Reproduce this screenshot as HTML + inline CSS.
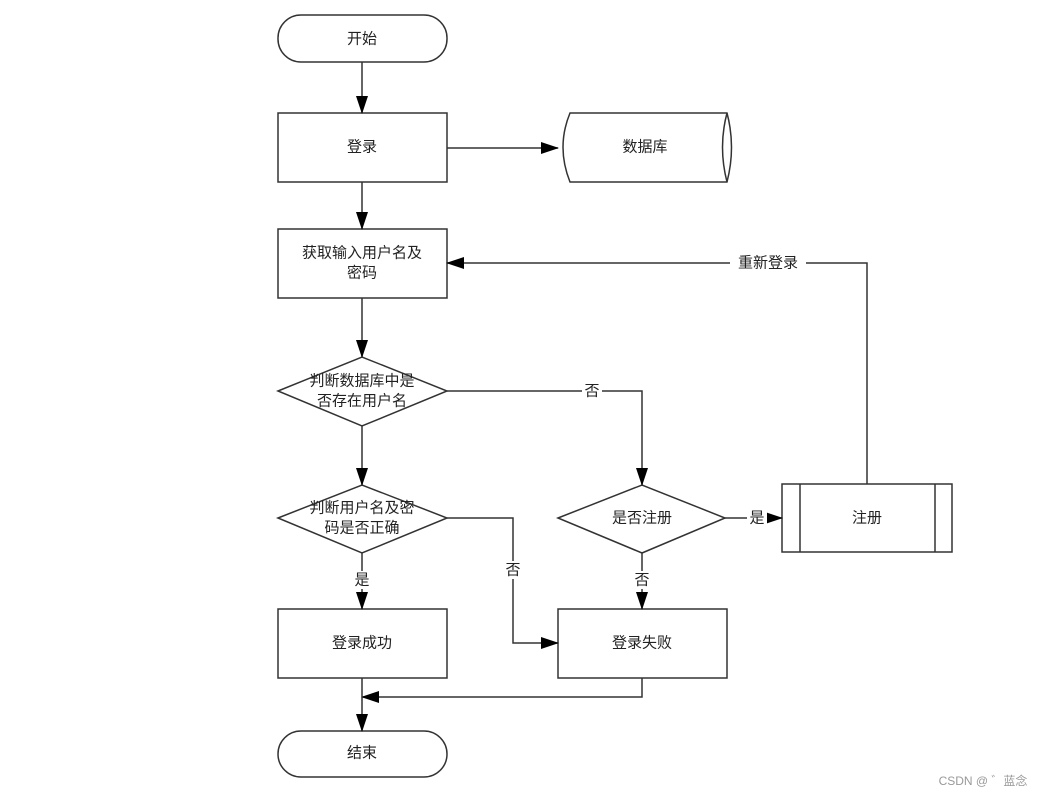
<!DOCTYPE html>
<html><head><meta charset="utf-8"><style>
html,body{margin:0;padding:0;background:#fff;}
svg{display:block;font-family:"Liberation Sans","Noto Sans CJK SC",sans-serif;}
text{font-size:15px;fill:#222;text-anchor:middle;dominant-baseline:central;}
</style></head><body>
<svg width="1042" height="797" viewBox="0 0 1042 797">
<defs><marker id="a" markerWidth="10" markerHeight="10" refX="9" refY="5" orient="auto" markerUnits="userSpaceOnUse"><path d="M0,0 L10,5 L0,10 z" fill="#000"/></marker>
<marker id="b" markerWidth="18" markerHeight="12" refX="17" refY="6" orient="auto" markerUnits="userSpaceOnUse"><path d="M0,0 L18,6 L0,12 z" fill="#000"/></marker></defs>
<g fill="none" stroke="#333" stroke-width="1.5">
<rect x="278" y="15" width="169" height="47" rx="23"/>
<rect x="278" y="113" width="169" height="69"/>
<path d="M570,113 H727 Q736,147 727,182 H570 Q556,147 570,113 Z"/>
<path d="M727,113 Q718,147 727,182"/>
<rect x="278" y="229" width="169" height="69"/>
<polygon points="278,391 362,357 447,391 362,426"/>
<polygon points="278,518 362,485 447,518 362,553"/>
<polygon points="558,518 642,485 725,518 642,553"/>
<rect x="782" y="484" width="170" height="68"/><line x1="800" y1="484" x2="800" y2="552"/><line x1="935" y1="484" x2="935" y2="552"/>
<rect x="278" y="609" width="169" height="69"/>
<rect x="558" y="609" width="169" height="69"/>
<rect x="278" y="731" width="169" height="46" rx="23"/>
</g>
<g fill="none" stroke="#333" stroke-width="1.5" marker-end="url(#b)">
<line x1="362" y1="62" x2="362" y2="113"/>
<line x1="447" y1="148" x2="558" y2="148"/>
<line x1="362" y1="182" x2="362" y2="229"/>
<line x1="362" y1="298" x2="362" y2="357"/>
<line x1="362" y1="426" x2="362" y2="485"/>
<polyline points="447,391 642,391 642,485"/>
<line x1="725" y1="518" x2="782" y2="518"/>
<line x1="642" y1="553" x2="642" y2="609"/>
<polyline points="447,518 513,518 513,643 558,643"/>
<line x1="362" y1="553" x2="362" y2="609"/>
<polyline points="867,484 867,263 447,263"/>
<polyline points="642,678 642,697 362,697"/>
<line x1="362" y1="678" x2="362" y2="731"/>
</g>
<g fill="#fff"><rect x="730" y="254" width="76" height="18"/><rect x="582" y="382" width="20" height="18"/><rect x="747" y="509" width="20" height="18"/><rect x="632" y="571" width="20" height="18"/><rect x="503" y="561" width="20" height="18"/><rect x="352" y="571" width="20" height="18"/></g>
<text x="362" y="39">开始</text>
<text x="362" y="147">登录</text>
<text x="645" y="147">数据库</text>
<text x="362" y="253">获取输入用户名及</text><text x="362" y="273">密码</text>
<text x="362" y="381">判断数据库中是</text><text x="362" y="401">否存在用户名</text>
<text x="362" y="508">判断用户名及密</text><text x="362" y="528">码是否正确</text>
<text x="642" y="518">是否注册</text>
<text x="867" y="518">注册</text>
<text x="362" y="643">登录成功</text>
<text x="642" y="643">登录失败</text>
<text x="362" y="753">结束</text>
<text x="768" y="263">重新登录</text>
<text x="592" y="391">否</text>
<text x="757" y="518">是</text>
<text x="642" y="580">否</text>
<text x="513" y="570">否</text>
<text x="362" y="580">是</text>
<text x="983" y="781" style="font-size:12px;fill:#999">CSDN @ ゛蓝念</text>
</svg>
</body></html>
